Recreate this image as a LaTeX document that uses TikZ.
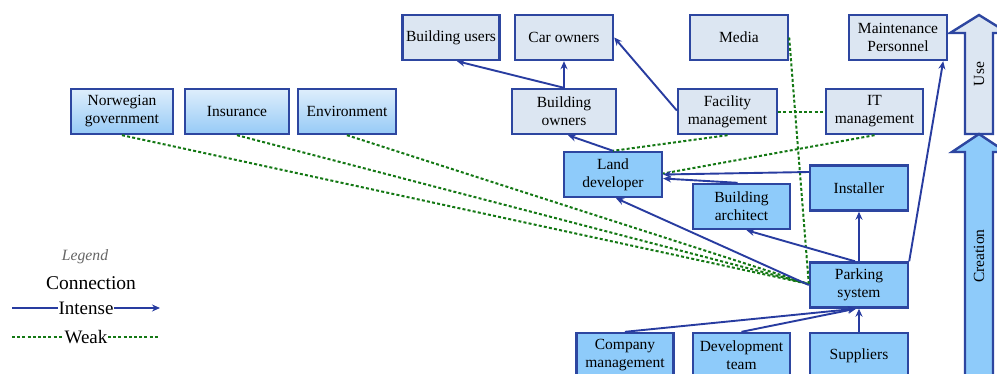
\documentclass[tikz,border=0pt]{standalone}
\usepackage{fontspec}
\setmainfont{Liberation Serif}
\usetikzlibrary{arrows.meta,calc}
\definecolor{bordcol}{RGB}{45,70,160}
\definecolor{linecol}{RGB}{40,60,160}
\definecolor{lightfill}{RGB}{220,230,242}
\definecolor{darkfill}{RGB}{142,203,250}
\definecolor{gradtop}{RGB}{222,238,252}
\definecolor{gradbot}{RGB}{150,202,246}
\definecolor{weakcol}{RGB}{20,120,20}
\tikzset{
  boxbase/.style={draw=bordcol, line width=2.4pt, minimum height=45pt, inner sep=0pt, align=center,
    font=\fontsize{15.5}{18}\selectfont},
  lbox/.style={boxbase, fill=lightfill},
  dbox/.style={boxbase, fill=darkfill},
  gbox/.style={boxbase, top color=gradtop, bottom color=gradbot},
  strong/.style={draw=linecol, line width=1.9pt, -{Stealth[length=8pt,width=7pt]}},
  weak/.style={draw=weakcol, line width=2pt, dash pattern=on 3pt off 2.2pt},
}
\begin{document}
\begin{tikzpicture}[x=1pt,y=-1pt]
\clip (0,0) rectangle (997,373);
\fill[white] (0,0) rectangle (997,373);
% top row
\node[lbox, minimum width=97pt] (bu) at (451,37.5) {Building users};
\node[lbox, minimum width=98pt] (co) at (564,37.5) {Car owners};
\node[lbox, minimum width=98pt] (me) at (739,37.5) {Media};
\node[lbox, minimum width=98pt] (mp) at (898,37.5) {Maintenance\\Personnel};
% second row
\node[gbox, minimum width=102pt] (ng) at (122,111.5) {Norwegian\\government};
\node[gbox, minimum width=104pt] (ins) at (237,111.5) {Insurance};
\node[gbox, minimum width=98pt] (env) at (347,111.5) {Environment};
\node[lbox, minimum width=104pt] (bo) at (564,111.5) {Building\\owners};
\node[lbox, minimum width=99pt] (fm) at (727.5,111.5) {Facility\\management};
\node[lbox, minimum width=97pt] (it) at (874.5,111.5) {IT\\management};
% creation nodes
\node[dbox, minimum width=98pt] (ld) at (613,174.5) {Land\\developer};
\node[dbox, minimum width=97pt] (ba) at (741.5,206.5) {Building\\architect};
\node[dbox, minimum width=98pt] (inst) at (859,188) {Installer};
\node[dbox, minimum width=98pt] (ps) at (859,285) {Parking\\system};
\node[dbox, minimum width=97pt] (cm) at (625,355.5) {Company\\management};
\node[dbox, minimum width=97pt] (dt) at (741.5,355.5) {Development\\team};
\node[dbox, minimum width=98pt] (su) at (859,355.5) {Suppliers};
% Use / Creation arrows
\draw[bordcol, line width=2.4pt, fill=lightfill] (965,134) -- (965,33) -- (950,33) -- (979,15) -- (1008,33) -- (993,33) -- (993,134) -- cycle;
\node[rotate=90, font=\fontsize{15.5}{18}\selectfont] (use) at (979,74) {Use};
\draw[bordcol, line width=2.4pt, fill=darkfill] (965,400) -- (965,152) -- (952,152) -- (979,134) -- (1006,152) -- (993,152) -- (993,400) -- cycle;
\node[rotate=90, font=\fontsize{15.5}{18}\selectfont] (cre) at (979,256) {Creation};
% weak connections
\coordinate (psw) at ($(ps.west)+(0,-1)$);
\draw[weak] (ng.south) -- (psw);
\draw[weak] (ins.south) -- (psw);
\draw[weak] (env.south) -- (psw);
\draw[weak] (me.east) -- (psw);
\draw[weak] (fm.east) -- (it.west);
\draw[weak] (fm.south) -- (ld.north);
\draw[weak] (it.south) -- ($(ld.east)+(0,-1)$);
% strong connections
\draw[strong] (bo.north) -- ($(bu.south)+(6,0)$);
\draw[strong] (bo.north) -- (co.south);
\draw[strong] ($(fm.west)+(0,-1)$) -- (co.east);
\draw[strong] (ld.north) -- ($(bo.south)+(4,0)$);
\draw[strong] ($(inst.west)+(0,-16)$) -- ($(ld.east)+(0,0)$);
\draw[strong] ($(ba.north)+(-4,0)$) -- ($(ld.east)+(0,4)$);
\draw[strong] (ps.west) -- ($(ld.south)+(3,0)$);
\draw[strong] ($(ps.north)+(-4,0)$) -- ($(ba.south)+(5,0)$);
\draw[strong] (ps.north) -- (inst.south);
\draw[strong] (ps.north east) -- ($(mp.south east)+(-5,0)$);
\draw[strong] (cm.north) -- ($(ps.south)+(-3,0)$);
\draw[strong] (dt.north) -- ($(ps.south)+(-3,0)$);
\draw[strong] (su.north) -- (ps.south);
% legend
\node[font=\fontsize{15.7}{18}\selectfont\itshape, text=black!60] (lg) at (85,257) {Legend};
\node[font=\fontsize{19.5}{22}\selectfont] (conn) at (91,283) {Connection};
\node[font=\fontsize{19}{22}\selectfont, inner sep=0.5pt] (int) at (86,308) {Intense};
\coordinate (i1) at (12,308);
\coordinate (i2) at (160,308);
\draw[draw=linecol, line width=1.9pt] (i1) -- (int.west);
\draw[strong] (int.east) -- (i2);
\node[font=\fontsize{19}{22}\selectfont, inner sep=0.5pt] (wk) at (86,337) {Weak};
\coordinate (w1) at (12,337);
\coordinate (w2) at (160,337);
\draw[weak] (w1) -- (wk.west);
\draw[weak] (wk.east) -- (w2);
\end{tikzpicture}
\end{document}
